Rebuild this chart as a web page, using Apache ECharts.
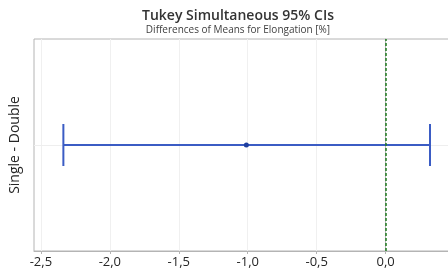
<!DOCTYPE html>
<html>
<head>
<meta charset="utf-8">
<script src="https://cdn.jsdelivr.net/npm/echarts@6/dist/echarts.min.js"></script>
<style>
  html, body { margin: 0; padding: 0; background: #fff; }
  #main { width: 448px; height: 274px; }
</style>
</head>
<body>
<div id="main"></div>
<script>
// data
const comparisons = ['Single - Double'];
const lowerCI = [-2.337];
const meanDiff = [-1.01];
const upperCI = [0.322];
const tickValues = [-2.5, -2.0, -1.5, -1.0, -0.5, 0.0];
const refValue = 0;

const ciColor = '#3b5cc4';
const chartDom = document.getElementById('main');
const myChart = echarts.init(chartDom);

const fmt = v => v.toFixed(1).replace('.', ',');

const ciData = comparisons.map((c, i) => [i, lowerCI[i], meanDiff[i], upperCI[i]]);

const option = {
    animation: false,
    backgroundColor: '#fff',
    textStyle: { fontFamily: 'Open Sans' },
    title: {
        text: 'Tukey Simultaneous 95% CIs',
        subtext: 'Differences of Means for Elongation [%]',
        left: 233,
        top: 4,
        textAlign: 'center',
        itemGap: 2,
        textStyle: { fontSize: 14, fontWeight: 600, color: '#333', fontFamily: 'Open Sans' },
        subtextStyle: { fontSize: 10, color: '#404040', fontFamily: 'Open Sans' }
    },
    grid: {
        left: 34, right: -10, top: 39, bottom: 23,
        outerBoundsMode: 'none',
        containLabel: false,
        show: true, borderColor: '#b4b4b4', borderWidth: 1, backgroundColor: '#fff'
    },
    xAxis: {
        type: 'value',
        min: -2.55,
        max: 0.525,
        axisLine: { show: true, lineStyle: { color: '#b4b4b4' } },
        axisTick: { show: true, customValues: tickValues, length: 3, lineStyle: { color: '#b4b4b4' } },
        axisLabel: {
            customValues: tickValues,
            formatter: fmt,
            fontSize: 13, color: '#262626', margin: 5
        },
        splitLine: { show: true, lineStyle: { color: '#f0f0f0' } }
    },
    yAxis: {
        type: 'category',
        data: comparisons,
        axisLine: { show: true, lineStyle: { color: '#b4b4b4' } },
        axisTick: { show: false },
        axisLabel: { rotate: 90, fontSize: 14, color: '#262626', margin: 12, align: 'center' },
        splitLine: { show: false }
    },
    series: [{
        // faint horizontal guide behind the interval
        type: 'line',
        data: [],
        z: 1,
        markLine: {
            z: 1,
            silent: true,
            symbol: 'none',
            label: { show: false },
            data: [{ yAxis: comparisons[0], lineStyle: { color: '#eeeeee', type: 'solid', width: 1 } }]
        }
    }, {
        type: 'custom',
        data: ciData,
        encode: { y: 0, x: [1, 2, 3] },
        renderItem: (params, api) => {
            const idx = api.value(0);
            const lo = api.coord([api.value(1), idx]);
            const mid = api.coord([api.value(2), idx]);
            const hi = api.coord([api.value(3), idx]);
            const cap = 21;
            const style = { stroke: ciColor, lineWidth: 2 };
            return {
                type: 'group',
                children: [
                    { type: 'line', shape: { x1: lo[0], y1: lo[1], x2: hi[0], y2: hi[1] }, style: { stroke: ciColor, lineWidth: 2 } },
                    { type: 'line', shape: { x1: lo[0], y1: lo[1] - cap, x2: lo[0], y2: lo[1] + cap }, style },
                    { type: 'line', shape: { x1: hi[0], y1: hi[1] - cap, x2: hi[0], y2: hi[1] + cap }, style },
                    { type: 'circle', shape: { cx: mid[0], cy: mid[1], r: 2.5 }, style: { fill: '#1f3f9f' } }
                ]
            };
        },
        markLine: {
            z: 6,
            silent: true,
            symbol: 'none',
            label: { show: false },
            data: [
                { xAxis: refValue, lineStyle: { color: '#1e7b1e', type: [3, 2], width: 1.5 } }
            ]
        },
        z: 3
    }]
};
myChart.setOption(option);
</script>
</body>
</html>
